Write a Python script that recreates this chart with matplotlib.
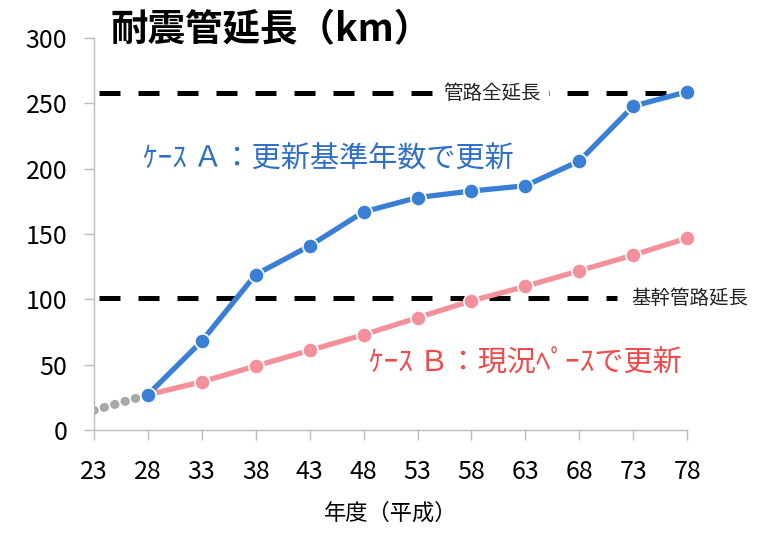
import matplotlib
matplotlib.use("Agg")
import matplotlib.pyplot as plt

plt.rcParams['font.family'] = ['Noto Sans CJK JP', 'DejaVu Sans']

# 年度(平成)
years = [28, 33, 38, 43, 48, 53, 58, 63, 68, 73, 78]
case_a = [27, 68, 119, 141, 167, 178, 183, 187, 206, 248, 259]
case_b = [27, 37, 49, 61, 73, 86, 99, 110, 122, 134, 147]
past_years = [23, 28]
past_km = [15, 27]
xticks = [23, 28, 33, 38, 43, 48, 53, 58, 63, 68, 73, 78]
yticks = [0, 50, 100, 150, 200, 250, 300]

total_len = 258      # 管路全延長
trunk_len = 101      # 基幹管路延長

blue = '#3a7fd6'
pink = '#f3909c'

fig = plt.figure(figsize=(7.62, 5.37), dpi=100)
ax = fig.add_axes([0.123, 0.199, 0.779, 0.730])

# 延長の破線
dash = (0, (4.2, 3.6))
ax.plot([23.5, 78], [total_len, total_len], color='black', lw=3.6,
        linestyle=dash, zorder=1, clip_on=False)
ax.plot([23.5, 71.5], [trunk_len, trunk_len], color='black', lw=3.6,
        linestyle=dash, zorder=1, clip_on=False)
ax.text(55.4, total_len, '管路全延長', fontsize=14, color='#222222',
        va='center', ha='left', zorder=2,
        bbox=dict(facecolor='white', edgecolor='none', pad=6))
ax.text(72.8, trunk_len, '基幹管路延長', fontsize=14, color='#222222',
        va='center', ha='left', clip_on=False)

# 実績(点線)
ax.plot(past_years, past_km, color='#a8a8a8', lw=6.5, linestyle=(0, (0.05, 1.15)),
        dash_capstyle='round', zorder=2)

ax.plot(years, case_b, color=pink, lw=3.8, marker='o', markersize=11,
        markeredgecolor='white', markeredgewidth=1.2, zorder=3, clip_on=False)
ax.plot(years, case_a, color=blue, lw=3.8, marker='o', markersize=11,
        markeredgecolor='white', markeredgewidth=1.2, zorder=4, clip_on=False)

ax.text(27.6, 207, 'ｹｰｽ Ａ：更新基準年数で更新', fontsize=21, color='#2f6fc8',
        va='center', ha='left')
ax.text(48.5, 52, 'ｹｰｽ Ｂ：現況ﾍﾟｰｽで更新', fontsize=21, color='#f24a4a',
        va='center', ha='left')

ax.set_xlim(23, 78)
ax.set_ylim(0, 300)
ax.set_xticks(xticks)
ax.set_yticks(yticks)
ax.tick_params(axis='both', labelsize=18, color='#bbbbbb', length=7, width=1)
ax.tick_params(axis='x', pad=14)
ax.tick_params(axis='y', pad=12)
for side in ['top', 'right']:
    ax.spines[side].set_visible(False)
for side in ['left', 'bottom']:
    ax.spines[side].set_color('#bbbbbb')
    ax.spines[side].set_linewidth(1)

ax.set_xlabel('年度（平成）', fontsize=16, labelpad=12)
fig.text(0.145, 0.945, '耐震管延長（km）', fontsize=27, fontweight='bold',
         va='center', ha='left')

fig.savefig('out.png', dpi=100)
